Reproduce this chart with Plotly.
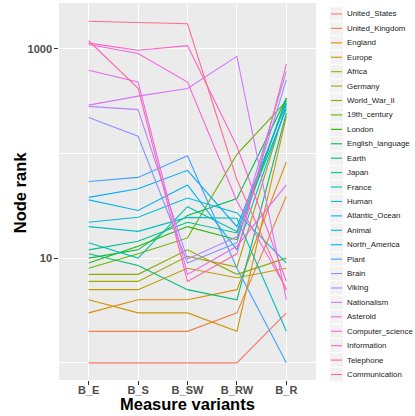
import math
import plotly.graph_objects as go

measures = ["B_E", "B_S", "B_SW", "B_RW", "B_R"]

pages = ["United_States", "United_Kingdom", "England", "Europe", "Africa", "Germany",
         "World_War_II", "19th_century", "London", "English_language", "Earth", "Japan",
         "France", "Human", "Atlantic_Ocean", "Animal", "North_America", "Plant", "Brain",
         "Viking", "Nationalism", "Asteroid", "Computer_science", "Information",
         "Telephone", "Communication"]

b_e  = [1, 2, 3, 4, 5, 6, 7, 8, 9, 10, 11, 12, 14, 20, 22, 36, 38, 54, 220, 281, 289, 623, 1095, 1130, 1190, 1830]
b_s  = [1, 2, 4, 3, 5, 6, 7, 11, 13, 12, 8.5, 14.5, 10, 18, 24.6, 28.5, 46, 59, 146, 262, 352, 480, 900, 965, 418, 1790]
b_sw = [1, 2, 4, 3, 8, 10.4, 12, 15.6, 20, 25.6, 5, 22, 31, 24.5, 37.5, 50, 69, 95, 9, 9.8, 416, 7, 480, 1070, 6, 1730]
b_rw = [1, 3, 5, 2, 6.5, 8.2, 7, 98, 15, 37, 4, 17.4, 18, 24, 27, 12, 20, 8, 14, 16, 845, 13, 35, 117, 11, 56]
b_r  = [3, 39, 83, 226, 8, 294, 10, 315, 336, 337, 242, 265, 321, 2, 9, 281, 303, 1, 506, 608, 4, 50, 5.1, 6, 715, 4.9]

values = [b_e, b_s, b_sw, b_rw, b_r]


def hcl_hex(h, c=100.0, l=65.0):
    hr = math.radians(h)
    U = c * math.cos(hr)
    V = c * math.sin(hr)
    Xn, Yn, Zn = 95.047, 100.0, 108.883
    Y = Yn * ((l + 16) / 116) ** 3 if l > 8 else Yn * l / 903.3
    t = Xn + 15 * Yn + 3 * Zn
    un, vn = 4 * Xn / t, 9 * Yn / t
    u = U / (13 * l) + un
    v = V / (13 * l) + vn
    X = 9.0 * Y * u / (4 * v)
    Z = -X / 3 - 5 * Y + 3 * Y / v
    X, Y, Z = X / 100, Y / 100, Z / 100
    r = 3.240479 * X - 1.537150 * Y - 0.498535 * Z
    g = -0.969256 * X + 1.875992 * Y + 0.041556 * Z
    b = 0.055648 * X - 0.204043 * Y + 1.057311 * Z

    def gam(x):
        x = 12.92 * x if x <= 0.0031308 else 1.055 * x ** (1 / 2.4) - 0.055
        return int(round(max(0, min(1, x)) * 255))
    return "#%02X%02X%02X" % (gam(r), gam(g), gam(b))


n = len(pages)
colors = [hcl_hex(15 + 360 * i / n) for i in range(n)]

FONT = "Liberation Sans, Arial, sans-serif"
fig = go.Figure()
for i, name in enumerate(pages):
    fig.add_trace(go.Scatter(
        x=measures, y=[col[i] for col in values], mode="lines", name=name,
        line=dict(color=colors[i], width=1.1), showlegend=False))

# plot area in pixels
L, R, T, B = 59, 99, 2.5, 36
W, H = 415, 416
pw, ph = W - L - R, H - T - B

def px_x(p):
    return (p - L) / pw

def px_y(p):
    return (H - B - p) / ph

shapes, annotations = [], []
y0, step = 13.5, 14.44
for i, name in enumerate(pages):
    yc = y0 + i * step
    shapes.append(dict(type="rect", xref="paper", yref="paper",
                       x0=px_x(329.5), x1=px_x(343.5), y0=px_y(yc - step / 2), y1=px_y(yc + step / 2),
                       fillcolor="#F2F2F2", line=dict(color="white", width=1)))
    shapes.append(dict(type="line", xref="paper", yref="paper",
                       x0=px_x(331), x1=px_x(342), y0=px_y(yc), y1=px_y(yc),
                       line=dict(color=colors[i], width=1.1)))
    annotations.append(dict(text=name, xref="paper", yref="paper", x=px_x(345), y=px_y(yc),
                            xanchor="left", yanchor="middle", showarrow=False,
                            font=dict(family=FONT, size=7.9, color="#1A1A1A")))

annotations.append(dict(text="Node rank", xref="paper", yref="paper", x=px_x(20), y=px_y(192),
                        textangle=-90, xanchor="center", yanchor="middle", showarrow=False,
                        font=dict(family=FONT, size=16.5, color="black", weight="bold")))
annotations.append(dict(text="Measure variants", xref="paper", yref="paper", x=0.5, y=px_y(404),
                        xanchor="center", yanchor="middle", showarrow=False,
                        font=dict(family=FONT, size=16.5, color="black", weight="bold")))

tickfont = dict(family=FONT, size=11, color="#4D4D4D", weight="bold")
fig.update_layout(
    width=W, height=H, margin=dict(l=L, r=R, t=T, b=B, pad=0),
    paper_bgcolor="white", plot_bgcolor="#EBEBEB",
    shapes=shapes, annotations=annotations,
    xaxis=dict(type="category", categoryorder="array", categoryarray=measures,
               range=[-0.6, 4.6], showgrid=True, gridcolor="white", gridwidth=1.1,
               zeroline=False, showline=False, ticks="outside", ticklen=3.7,
               tickwidth=1.07, tickcolor="#333333", tickfont=tickfont,
               ticklabelstandoff=-4),
    yaxis=dict(type="log", range=[-0.1636, 3.436], tickmode="array",
               tickvals=[10, 1000], ticktext=["10", "1000"],
               showgrid=True, gridcolor="white", gridwidth=1.1,
               minor=dict(tickvals=[1, 100], showgrid=True, gridcolor="white",
                          gridwidth=0.55, ticks=""),
               zeroline=False, showline=False, ticks="outside", ticklen=3.7,
               tickwidth=1.07, tickcolor="#333333", tickfont=tickfont),
)
fig.write_html("out.html")
